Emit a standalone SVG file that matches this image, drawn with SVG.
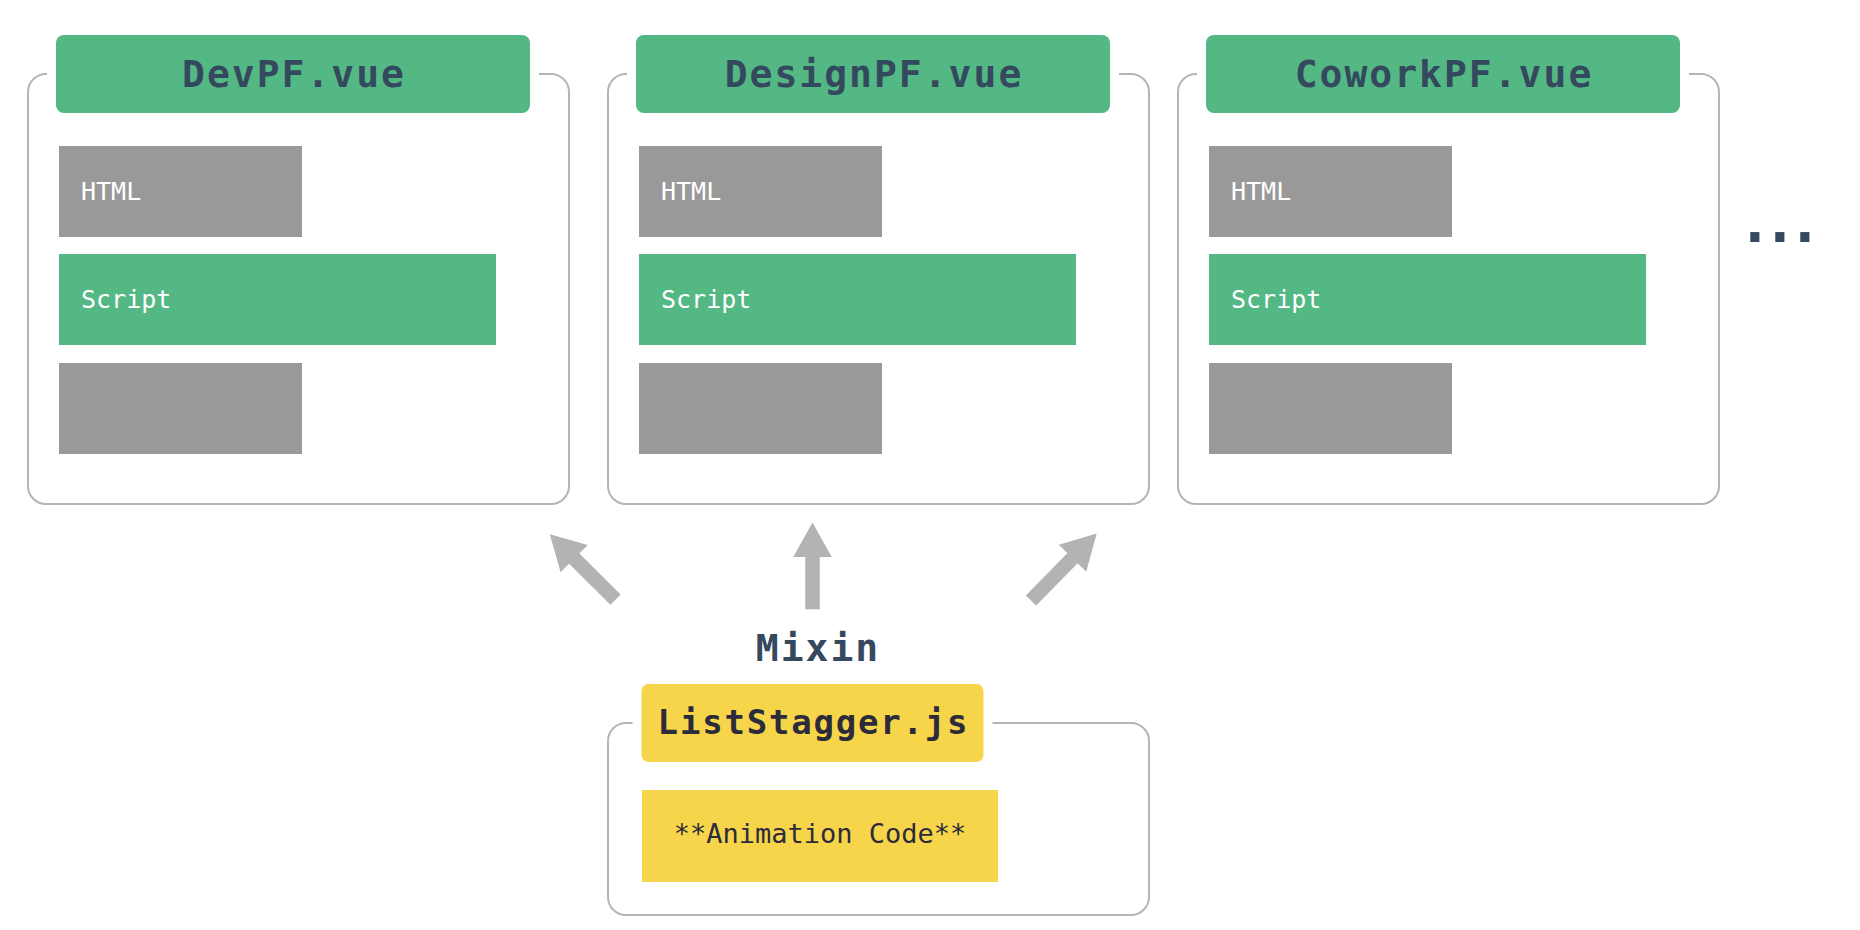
<svg xmlns="http://www.w3.org/2000/svg" width="1860" height="930" viewBox="0 0 1860 930">
<defs>
<style>
.frame{fill:none;stroke:#b5b5b5;stroke-width:2}
.title{fill:#54b884}
.ytitle{fill:#f7d54a}
.gray{fill:#999999}
.green{fill:#54b884}
.yellow{fill:#f7d54a}
.ttext{font-family:"DejaVu Sans Mono","Liberation Mono",monospace;font-weight:bold;font-size:38px;letter-spacing:2px;fill:#34495e;text-anchor:middle}
.ytext{font-family:"DejaVu Sans Mono","Liberation Mono",monospace;font-weight:bold;font-size:34px;letter-spacing:1.8px;fill:#2c2b3b;text-anchor:middle}
.btext{font-family:"DejaVu Sans Mono","Liberation Mono",monospace;font-size:25px;fill:#ffffff}
.atext{font-family:"DejaVu Sans Mono","Liberation Mono",monospace;font-size:27px;fill:#2c2b3b;text-anchor:middle}
.dots{font-family:"DejaVu Sans Mono","Liberation Mono",monospace;font-weight:bold;font-size:56px;letter-spacing:-8.7px;fill:#34495e}
.arrow{stroke:#b3b3b3;stroke-width:14.5;fill:none;marker-end:url(#head)}
</style>
<marker id="head" markerUnits="userSpaceOnUse" viewBox="0 -20 35 40" markerWidth="35" markerHeight="40" refX="1" refY="0" orient="auto" overflow="visible">
<path d="M0,-19.25 L34.5,0 L0,19.25 Z" fill="#b3b3b3"/>
</marker>
</defs>
<rect width="1860" height="930" fill="#ffffff"/>

<g id="devpf">
<path class="frame" d="M47 74 L46 74 A18 18 0 0 0 28 92 L28 486 A18 18 0 0 0 46 504 L551 504 A18 18 0 0 0 569 486 L569 92 A18 18 0 0 0 551 74 L539 74"/>
<rect class="title" x="56" y="35" width="474" height="78" rx="8"/>
<text class="ttext" x="294" y="87">DevPF.vue</text>
<rect class="gray" x="59" y="146" width="243" height="91"/>
<text class="btext" x="81" y="200">HTML</text>
<rect class="green" x="59" y="254" width="437" height="91"/>
<text class="btext" x="81" y="308">Script</text>
<rect class="gray" x="59" y="363" width="243" height="91"/>
</g>

<g id="designpf">
<path class="frame" d="M627 74 L626 74 A18 18 0 0 0 608 92 L608 486 A18 18 0 0 0 626 504 L1131 504 A18 18 0 0 0 1149 486 L1149 92 A18 18 0 0 0 1131 74 L1119 74"/>
<rect class="title" x="636" y="35" width="474" height="78" rx="8"/>
<text class="ttext" x="874" y="87">DesignPF.vue</text>
<rect class="gray" x="639" y="146" width="243" height="91"/>
<text class="btext" x="661" y="200">HTML</text>
<rect class="green" x="639" y="254" width="437" height="91"/>
<text class="btext" x="661" y="308">Script</text>
<rect class="gray" x="639" y="363" width="243" height="91"/>
</g>

<g id="coworkpf">
<path class="frame" d="M1197 74 L1196 74 A18 18 0 0 0 1178 92 L1178 486 A18 18 0 0 0 1196 504 L1701 504 A18 18 0 0 0 1719 486 L1719 92 A18 18 0 0 0 1701 74 L1689 74"/>
<rect class="title" x="1206" y="35" width="474" height="78" rx="8"/>
<text class="ttext" x="1444" y="87">CoworkPF.vue</text>
<rect class="gray" x="1209" y="146" width="243" height="91"/>
<text class="btext" x="1231" y="200">HTML</text>
<rect class="green" x="1209" y="254" width="437" height="91"/>
<text class="btext" x="1231" y="308">Script</text>
<rect class="gray" x="1209" y="363" width="243" height="91"/>
</g>

<g id="more">
<text class="dots" x="1738" y="242">...</text>
</g>

<g id="liststagger">
<path class="frame" d="M632.5 723 L626 723 A18 18 0 0 0 608 741 L608 897 A18 18 0 0 0 626 915 L1131 915 A18 18 0 0 0 1149 897 L1149 741 A18 18 0 0 0 1131 723 L992.5 723"/>
<rect class="ytitle" x="641.5" y="684" width="342" height="78" rx="7"/>
<text class="ytext" x="813.5" y="734">ListStagger.js</text>
<rect class="yellow" x="642" y="790" width="356" height="92"/>
<text class="atext" x="820" y="843">**Animation Code**</text>
</g>

<g id="connectors">
<line class="arrow" x1="615.5" y1="599.7" x2="573.5" y2="557.8"/>
<line class="arrow" x1="812.5" y1="609.3" x2="812.5" y2="556"/>
<line class="arrow" x1="1031" y1="600.5" x2="1073.2" y2="557.5"/>
<text class="ttext" x="818" y="660.7">Mixin</text>
</g>
</svg>
